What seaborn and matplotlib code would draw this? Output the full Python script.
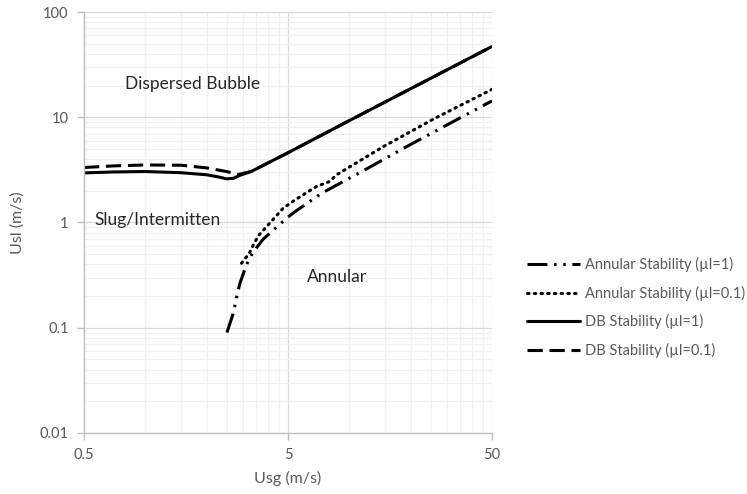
import numpy as np
import matplotlib
matplotlib.use("Agg")
import matplotlib.pyplot as plt
import seaborn as sns
from matplotlib.ticker import FixedLocator, NullFormatter

# --- data (Usg in m/s, Usl in m/s) ---
ann1_usg = [2.51, 2.7, 2.82, 2.91, 3.13, 3.31, 3.54, 3.78, 4.53, 4.93, 5.42, 7.32, 11.9, 19.8, 32.3, 50]
ann1_usl = [0.09, 0.138, 0.209, 0.266, 0.397, 0.49, 0.59, 0.695, 0.95, 1.10, 1.27, 1.90, 3.16, 5.47, 9.1, 14.3]

ann01_usg = [2.96, 3.23, 3.38, 3.58, 4.08, 4.74, 5.42, 6.9, 8.0, 8.65, 14.7, 25.8, 50]
ann01_usl = [0.41, 0.51, 0.61, 0.75, 0.99, 1.37, 1.64, 2.2, 2.45, 2.84, 5.27, 9.6, 18.4]

db1_usg = [0.5, 0.7, 1.0, 1.5, 2.0, 2.3, 2.5, 2.7, 2.9, 3.3, 5, 10, 20, 50]
db1_usl = [2.96, 3.02, 3.05, 2.97, 2.84, 2.7, 2.6, 2.63, 2.8, 3.05, 4.6, 9.3, 18.7, 47]

db01_usg = [0.5, 0.7, 1.0, 1.5, 2.0, 2.5, 2.85, 3.3, 5, 10, 20, 50]
db01_usl = [3.33, 3.45, 3.52, 3.5, 3.3, 3.05, 2.86, 3.05, 4.6, 9.3, 18.7, 47]

labels = ["Annular Stability (\u00b5l=1)", "Annular Stability (\u00b5l=0.1)",
          "DB Stability (\u00b5l=1)", "DB Stability (\u00b5l=0.1)"]

x_ticks = [0.5, 5, 50]
x_ticklabels = ["0.5", "5", "50"]
y_ticks = [0.01, 0.1, 1, 10, 100]
y_ticklabels = ["0.01", "0.1", "1", "10", "100"]

sns.set_theme(style="white")
plt.rcParams['font.family'] = ['Lato', 'DejaVu Sans']

GREY_TXT = "#595959"
fig = plt.figure(figsize=(7.47, 4.94), dpi=100)
ax = fig.add_axes([0.1124, 0.1235, 0.5462, 0.8522])

lw = 2.2
sns.lineplot(x=ann1_usg, y=ann1_usl, ax=ax, color="black", lw=lw, sort=False, estimator=None,
             linestyle=(0, (6.5, 2.2, 0.8, 2.2, 0.8, 2.2)), label=labels[0])
sns.lineplot(x=ann01_usg, y=ann01_usl, ax=ax, color="black", lw=lw, sort=False, estimator=None,
             linestyle=(0, (0.5, 1.7)), dash_capstyle="round", label=labels[1])
sns.lineplot(x=db1_usg, y=db1_usl, ax=ax, color="black", lw=lw, sort=False, estimator=None,
             linestyle="-", label=labels[2])
sns.lineplot(x=db01_usg, y=db01_usl, ax=ax, color="black", lw=lw, sort=False, estimator=None,
             linestyle=(0, (5, 2.2)), label=labels[3])

ax.set_xscale("log")
ax.set_yscale("log")
ax.set_xlim(0.5, 50)
ax.set_ylim(0.01, 100)

# excel-like log axis: majors per decade starting at 0.5, minors at k*major
ax.xaxis.set_major_locator(FixedLocator(x_ticks))
ax.xaxis.set_minor_locator(FixedLocator([m * k for m in x_ticks[:-1] for k in range(2, 10)]))
ax.set_xticklabels(x_ticklabels)
ax.yaxis.set_major_locator(FixedLocator(y_ticks))
ax.yaxis.set_minor_locator(FixedLocator([m * k for m in y_ticks[:-1] for k in range(2, 10)]))
ax.set_yticklabels(y_ticklabels)
ax.xaxis.set_minor_formatter(NullFormatter())
ax.yaxis.set_minor_formatter(NullFormatter())

ax.grid(which="major", color="#d9d9d9", lw=0.9)
ax.grid(which="minor", color="#f0f0f0", lw=0.9)
ax.set_axisbelow(True)

for s in ["top", "right"]:
    ax.spines[s].set_visible(False)
for s in ["left", "bottom"]:
    ax.spines[s].set_color("#bfbfbf")
    ax.spines[s].set_linewidth(1.0)
ax.tick_params(which="major", direction="out", length=5, width=1.0, color="#bfbfbf",
               labelsize=10.5, labelcolor=GREY_TXT, pad=6)
ax.tick_params(which="minor", length=0)
ax.tick_params(axis="x", bottom=True)
ax.tick_params(axis="y", left=True)

ax.set_xlabel("Usg (m/s)", fontsize=11.5, color=GREY_TXT, labelpad=6)
ax.set_ylabel("Usl (m/s)", fontsize=11.5, color=GREY_TXT, labelpad=11)

# flow regime labels
ax.text(1.71, 20.8, "Dispersed Bubble", fontsize=12.5, color="#262626", ha="center", va="center")
ax.text(0.56, 1.06, "Slug/Intermitten", fontsize=12.5, color="#262626", ha="left", va="center")
ax.text(8.7, 0.305, "Annular", fontsize=12.5, color="#262626", ha="center", va="center")

leg = ax.legend(loc="center left", bbox_to_anchor=(0.7055, 0.3775), bbox_transform=fig.transFigure,
                frameon=False, fontsize=10.5, handlelength=3.6, handletextpad=0.35,
                labelspacing=0.92, borderpad=0, borderaxespad=0)
for t in leg.get_texts():
    t.set_color(GREY_TXT)

fig.savefig("out.png", dpi=100)
